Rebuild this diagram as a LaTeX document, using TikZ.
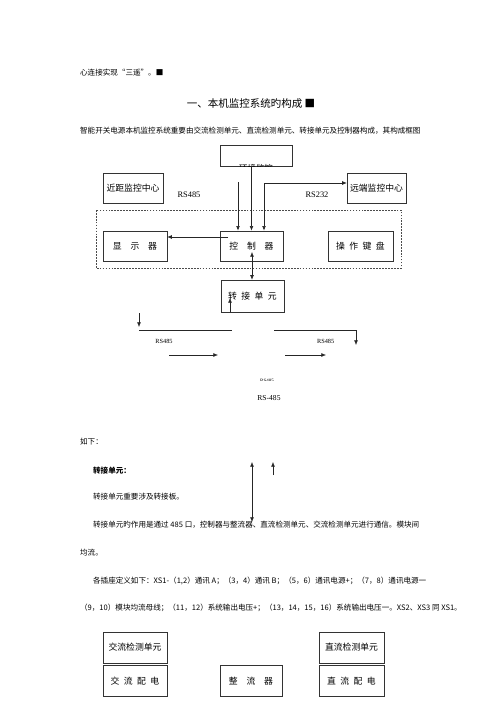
\documentclass[tikz,border=0pt]{standalone}
\usepackage{fontspec}
\setmainfont{Liberation Serif}
\newfontfamily\cjk{Noto Sans CJK SC}
\usetikzlibrary{arrows,arrows.meta,positioning,calc}

\begin{document}
\begin{tikzpicture}[x=1.19pt, y=-1.19pt,
    box/.style={rectangle, draw=black!80, line width=0.6pt, minimum width=76pt, minimum height=36pt, inner sep=0pt, text centered, font=\cjk\fontsize{10.5pt}{12pt}\selectfont},
    txt/.style={anchor=west, inner sep=0pt, font=\cjk\fontsize{9pt}{11pt}\selectfont},
    lbl/.style={inner sep=0pt, font=\fontsize{10pt}{12pt}\selectfont},
    arrow/.style={->, >={Latex[length=5.5pt,width=4.5pt]}, line width=0.7pt, draw=black!85},
    darrow/.style={<->, >={Latex[length=5.5pt,width=4.5pt]}, line width=0.7pt, draw=black!85}
]
\fill[white] (0,0) rectangle (500,707);
\useasboundingbox (0,0) rectangle (500,707);

% running text
\node[txt] (line1) at (80,73) {心连接实现“三遥”。■};
\node[inner sep=0pt, font=\cjk\fontsize{12.5pt}{14pt}\selectfont] (title) at (251,104) {一、本机监控系统旳构成 ■};
\node[txt] (intro) at (80,131) {智能开关电源本机监控系统重要由交流检测单元、直流检测单元、转接单元及控制器构成，其构成框图};

% block diagram
\node[box, minimum width=86pt, minimum height=25pt] (env) at (256,155.5) {};
\begin{scope}
  \clip (env.south west) rectangle (env.north east);
  \node[inner sep=0pt, font=\cjk\fontsize{10pt}{12pt}\selectfont] (envtext) at (256,168) {环境监控};
\end{scope}
\node[box, minimum width=71pt] (near) at (133,188) {近距监控中心};
\node[box, minimum width=70pt] (far) at (376.5,188) {远端监控中心};
\node[lbl] (rsa) at (189,195) {RS485};
\node[lbl] (rsb) at (317,195) {RS232};

\draw[black!70, line width=0.5pt, dash pattern=on 2pt off 1.5pt] (96,210) rectangle (401,268);
\node[box] (disp) at (135,246) {显\hspace{1em}示\hspace{1em}器};
\node[box, minimum width=75pt] (ctrl) at (251.5,246) {控\hspace{1em}制\hspace{1em}器};
\node[box, minimum width=77pt] (keys) at (360.5,246) {操\hspace{0.5em}作\hspace{0.5em}键\hspace{0.5em}盘};
\node[box, minimum width=75pt, minimum height=38pt] (trans) at (252.5,296) {转\hspace{0.5em}接\hspace{0.5em}单\hspace{0.5em}元};

\coordinate (inrs) at (238,182);
\coordinate (rsturn) at (264,183);
\coordinate (dispout) at (228,237);
\coordinate (ctlin) at (252,252);
\coordinate (trup) at (230,298);

\draw[arrow] (inrs) -- (inrs |- ctrl.north);
\draw[arrow] (env.south -| ctrl.north) -- (ctrl.north);
\draw[darrow] (ctrl.north -| rsturn) -- (rsturn) -- (rsturn -| far.west);
\draw[arrow] (dispout) -- (dispout -| disp.east);
\draw[darrow] (ctlin) -- (ctlin |- trans.north);
\draw[arrow] (trup |- trans.south) -- (trup);

% bus below the adapter
\coordinate (ldtop) at (139,313);
\coordinate (ldbot) at (139,327);
\coordinate (busl) at (232,330);
\coordinate (busr) at (274,330);
\coordinate (rdturn) at (356,330);
\coordinate (rdbot) at (356,345);
\draw[arrow] (ldtop) -- (ldbot);
\draw[line width=0.7pt, black!85] (139,330) -- (busl);
\draw[arrow] (busr) -- (rdturn) -- (rdbot);

\node[lbl, font=\fontsize{7.5pt}{9pt}\selectfont] (rsc) at (164,341) {RS485};
\node[lbl, font=\fontsize{7.5pt}{9pt}\selectfont] (rsd) at (325.7,341) {RS485};

\coordinate (ha1) at (169,355);
\coordinate (ha2) at (218,355);
\coordinate (hb1) at (285,355);
\coordinate (hb2) at (326,355);
\draw[arrow] (ha1) -- (ha2);
\draw[arrow] (hb1) -- (hb2);

\begin{scope}
  \clip (240,370) rectangle (300,380);
  \node[lbl, font=\fontsize{6pt}{7pt}\selectfont] (rse) at (267,380.5) {RS485};
\end{scope}
\node[lbl, font=\fontsize{9pt}{11pt}\selectfont] (rsf) at (269,398) {RS-485};

\node[txt] (line2) at (80,442) {如下：};
\node[txt, font=\cjk\bfseries\fontsize{9pt}{11pt}\selectfont] (head) at (93,471) {转接单元：};

\coordinate (va1) at (252,462);
\coordinate (va2) at (252,522);
\coordinate (vb1) at (273,475);
\coordinate (vb2) at (273,462);
\draw[darrow] (va1) -- (va2);
\draw[arrow] (vb1) -- (vb2);

\node[txt] (line3) at (93,497) {转接单元重要涉及转接板。};
\node[txt] (line4) at (93,525) {转接单元旳作用是通过 485 口，控制器与整流器、直流检测单元、交流检测单元进行通信。模块间};
\node[txt] (line5) at (80,553) {均流。};
\node[txt] (line6) at (93,581) {各插座定义如下：XS1-（1,2）通讯 A；（3，4）通讯 B；（5，6）通讯电源+；（7，8）通讯电源一};
\node[txt] (line7) at (80,608) {（9，10）模块均流母线；（11，12）系统输出电压+；（13，14，15，16）系统输出电压一。XS2、XS3 同 XS1。};

% units at the bottom
\node[box, minimum height=37pt] (acdet) at (135,647.5) {交流检测单元};
\node[box, minimum height=37pt] (acdist) at (135,681) {交\hspace{0.5em}流\hspace{0.5em}配\hspace{0.5em}电};
\node[box, minimum width=74pt, minimum height=37pt] (rect) at (251,681) {整\hspace{1em}流\hspace{1em}器};
\node[box, minimum width=77pt, minimum height=37pt] (dcdet) at (351.5,647.5) {直流检测单元};
\node[box, minimum width=77pt, minimum height=37pt] (dcdist) at (351.5,681) {直\hspace{0.5em}流\hspace{0.5em}配\hspace{0.5em}电};

\end{tikzpicture}
\end{document}
